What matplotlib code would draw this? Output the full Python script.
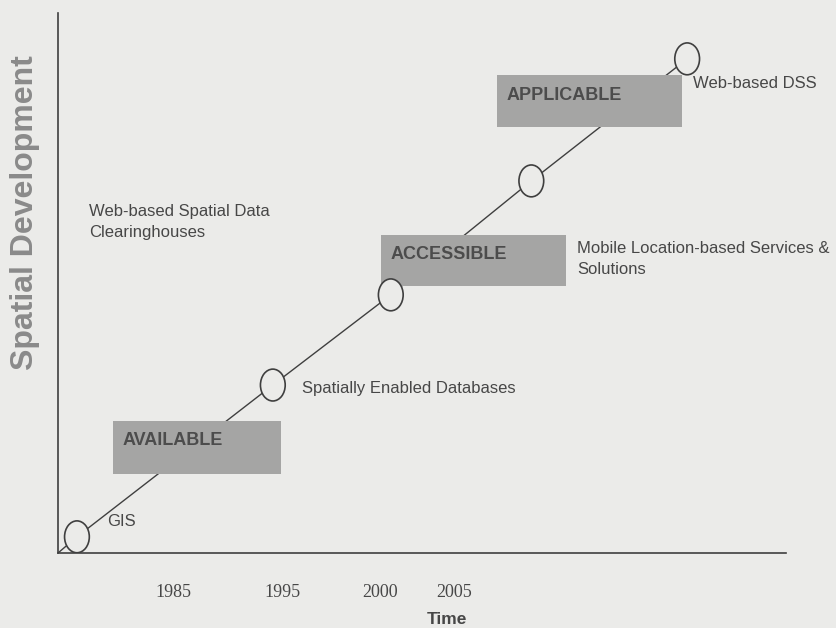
import matplotlib.pyplot as plt
from matplotlib.patches import Ellipse, Rectangle

# milestone circles along the development line (axis units 0-100)
milestone_x = [2.6, 29.5, 45.7, 65.0, 86.4]
milestone_y = [3.0, 31.1, 47.8, 68.9, 91.5]

# stage boxes: label, left, bottom, right, top
stages = ["AVAILABLE", "ACCESSIBLE", "APPLICABLE"]
stage_x0 = [7.55, 44.4, 60.3]
stage_x1 = [30.6, 69.8, 85.7]
stage_y0 = [14.6, 49.4, 78.9]
stage_y1 = [24.4, 58.9, 88.5]
stage_text_y = [20.9, 55.2, 84.8]

# technology annotations
notes = ["GIS", "Spatially Enabled Databases",
         "Web-based Spatial Data\nClearinghouses",
         "Mobile Location-based Services &\nSolutions", "Web-based DSS"]
note_x = [6.7, 33.5, 4.3, 71.3, 87.2]
note_y = [5.9, 30.4, 61.3, 54.4, 86.9]

years = ["1985", "1995", "2000", "2005"]
year_pos = [15.9, 30.8, 44.2, 54.4]

bg = "#ebebe9"
ink = "#3f3f3f"
txt = "#474747"

fig = plt.figure(figsize=(8.37, 6.28), dpi=100, facecolor=bg)
ax = fig.add_axes([0.0693, 0.1194, 0.870, 0.860])
ax.set_facecolor("none")
ax.set_xlim(0, 100)
ax.set_ylim(0, 100)

for s in ["top", "right"]:
    ax.spines[s].set_visible(False)
for s in ["left", "bottom"]:
    ax.spines[s].set_color(ink)
    ax.spines[s].set_linewidth(1.2)

# diagonal line from origin through the milestones
ax.plot([0] + milestone_x, [0] + milestone_y, color=ink, lw=1.0, zorder=1)

for x, y in zip(milestone_x, milestone_y):
    ax.add_patch(Ellipse((x, y), 3.4, 5.9, facecolor=bg, edgecolor=ink,
                         lw=1.2, zorder=3))

for name, x0, x1, y0, y1, ty in zip(stages, stage_x0, stage_x1, stage_y0,
                                    stage_y1, stage_text_y):
    ax.add_patch(Rectangle((x0, y0), x1 - x0, y1 - y0, facecolor="#a5a5a4",
                           edgecolor="none", zorder=2))
    ax.text(x0 + 1.3, ty, name, fontsize=13, fontweight="bold",
            family="Liberation Sans", color="#4c4c4c", ha="left", va="center",
            zorder=4)

for label, x, y in zip(notes, note_x, note_y):
    ax.text(x, y, label, fontsize=12, family="Liberation Sans", color=txt,
            ha="left", va="center", linespacing=1.5, zorder=4)

ax.set_yticks([])
ax.set_xticks(year_pos)
ax.set_xticklabels(years, family="Liberation Serif", fontsize=13, color=txt)
ax.tick_params(axis="x", length=0, pad=22)

ax.set_xlabel("Time", fontsize=12.5, fontweight="bold",
              family="Liberation Sans", color=txt)
ax.xaxis.set_label_coords(0.534, -0.109)

fig.text(25 / 837, 0.662, "Spatial Development", rotation=90, fontsize=23,
         fontweight="bold", family="Liberation Sans", color="#8a8a8a",
         ha="center", va="center")

fig.savefig("out.png", dpi=100, facecolor=bg)
